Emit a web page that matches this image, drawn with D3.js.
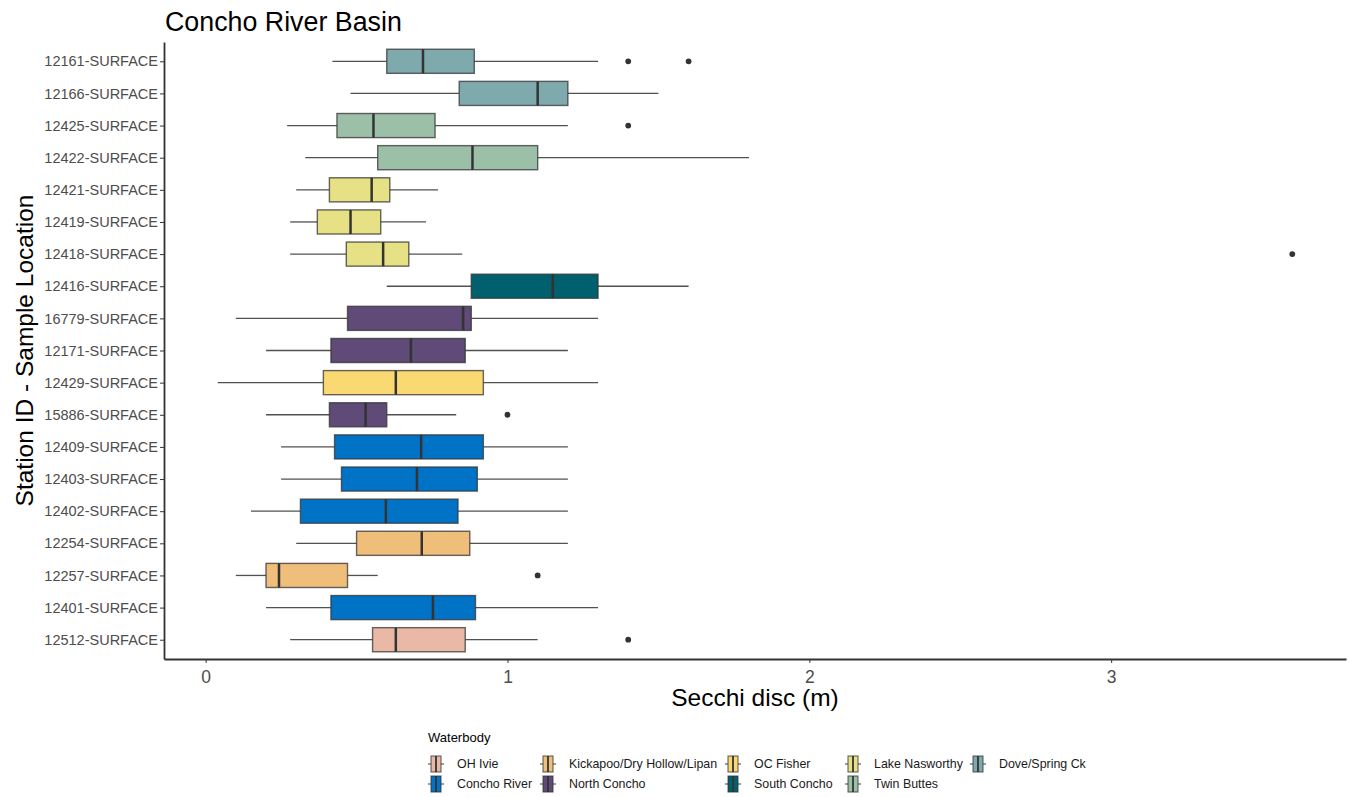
<!DOCTYPE html>
<html>
<head>
<meta charset="utf-8">
<script src="https://cdn.jsdelivr.net/npm/d3@7"></script>
<style>
  html, body { margin: 0; padding: 0; background: #fff; }
  svg { display: block; font-family: "Liberation Sans", Arial, sans-serif; }
</style>
</head>
<body>
<svg id="chart" width="1348" height="797"></svg>
<script>
// ---- data (top to bottom) ----
const stations = ["12161-SURFACE","12166-SURFACE","12425-SURFACE","12422-SURFACE","12421-SURFACE","12419-SURFACE","12418-SURFACE","12416-SURFACE","16779-SURFACE","12171-SURFACE","12429-SURFACE","15886-SURFACE","12409-SURFACE","12403-SURFACE","12402-SURFACE","12254-SURFACE","12257-SURFACE","12401-SURFACE","12512-SURFACE"];
const waterbodyOf = ["Dove/Spring Ck","Dove/Spring Ck","Twin Buttes","Twin Buttes","Lake Nasworthy","Lake Nasworthy","Lake Nasworthy","South Concho","North Concho","North Concho","OC Fisher","North Concho","Concho River","Concho River","Concho River","Kickapoo/Dry Hollow/Lipan","Kickapoo/Dry Hollow/Lipan","Concho River","OH Ivie"];
const whiskerLow  = [0.42, 0.48, 0.27, 0.33, 0.30, 0.28, 0.28, 0.60, 0.10, 0.20, 0.04, 0.20, 0.25, 0.25, 0.15, 0.30, 0.10, 0.20, 0.28];
const q1          = [0.60, 0.84, 0.435,0.57, 0.41, 0.37, 0.466,0.88, 0.47, 0.415,0.39, 0.41, 0.427,0.45, 0.314,0.50, 0.20, 0.415,0.553];
const median      = [0.72, 1.10, 0.556,0.884,0.55, 0.48, 0.588,1.15, 0.853,0.68, 0.63, 0.53, 0.714,0.70, 0.597,0.716,0.243,0.753,0.63];
const q3          = [0.89, 1.20, 0.76, 1.10, 0.61, 0.58, 0.673,1.30, 0.88, 0.86, 0.92, 0.60, 0.92, 0.90, 0.836,0.875,0.47, 0.894,0.86];
const whiskerHigh = [1.30, 1.50, 1.20, 1.80, 0.77, 0.73, 0.85, 1.60, 1.30, 1.20, 1.30, 0.83, 1.20, 1.20, 1.20, 1.20, 0.57, 1.30, 1.10];
const outliers    = [[1.40,1.60],[],[1.40],[],[],[],[3.60],[],[],[],[],[1.00],[],[],[],[],[1.10],[],[1.40]];
const legendOrder = ["OH Ivie","Concho River","Kickapoo/Dry Hollow/Lipan","North Concho","OC Fisher","South Concho","Lake Nasworthy","Twin Buttes","Dove/Spring Ck"];
const legendColors = ["#E9B9A6","#0073C7","#EEBE7A","#5F4A78","#FAD973","#00606E","#E7E185","#9CBFA8","#7EA9AD"];
const xTicks = [0, 1, 2, 3];

const svg = d3.select("#chart");
const pLeft = 164, pRight = 1346, pTop = 42, pBottom = 659;

const x = d3.scaleLinear().domain([-0.138, 3.778]).range([pLeft, pRight]);
const y = d3.scalePoint().domain(stations).range([pTop, pBottom]).padding(0.6);
const color = d3.scaleOrdinal().domain(legendOrder).range(legendColors);
const step = y.step();
const boxH = step * 0.75;

const rows = stations.map((s, i) => ({
  s, wb: waterbodyOf[i], lo: whiskerLow[i], q1: q1[i], med: median[i], q3: q3[i], hi: whiskerHigh[i], out: outliers[i]
}));

const lineCol = "#333333";

const g = svg.append("g");
const row = g.selectAll("g.row").data(rows).join("g").attr("class", "row")
  .attr("transform", d => `translate(0,${y(d.s)})`);

// whiskers
row.append("line").attr("x1", d => x(d.lo)).attr("x2", d => x(d.q1)).attr("y1", 0).attr("y2", 0)
  .attr("stroke", lineCol).attr("stroke-opacity", 0.85).attr("stroke-width", 1.3);
row.append("line").attr("x1", d => x(d.q3)).attr("x2", d => x(d.hi)).attr("y1", 0).attr("y2", 0)
  .attr("stroke", lineCol).attr("stroke-opacity", 0.85).attr("stroke-width", 1.3);
// boxes
row.append("rect").attr("x", d => x(d.q1)).attr("width", d => x(d.q3) - x(d.q1))
  .attr("y", -boxH / 2).attr("height", boxH)
  .attr("fill", d => color(d.wb)).attr("stroke", lineCol).attr("stroke-opacity", 0.75).attr("stroke-width", 1.4);
// medians
row.append("line").attr("x1", d => x(d.med)).attr("x2", d => x(d.med)).attr("y1", -boxH / 2).attr("y2", boxH / 2)
  .attr("stroke", lineCol).attr("stroke-width", 2.5);
// outliers
row.selectAll("circle").data(d => d.out).join("circle")
  .attr("cx", v => x(v)).attr("cy", 0).attr("r", 2.9).attr("fill", lineCol);

// axes
const xAxis = svg.append("g").attr("transform", `translate(0,${pBottom})`)
  .call(d3.axisBottom(x).tickValues(xTicks).tickFormat(d3.format("d")).tickSize(4).tickSizeOuter(0));
xAxis.select(".domain").attr("stroke", "#333").attr("stroke-width", 1.8);
xAxis.selectAll(".tick line").attr("stroke", "#333").attr("stroke-width", 1);
xAxis.selectAll(".tick text").attr("fill", "#4D4D4D").attr("font-size", 17.5).attr("dy", "0.95em")
  .attr("font-family", "Liberation Sans, Arial, sans-serif");

const yAxis = svg.append("g").attr("transform", `translate(${pLeft},0)`)
  .call(d3.axisLeft(y).tickSize(4).tickSizeOuter(0));
yAxis.select(".domain").attr("stroke", "#333").attr("stroke-width", 1.8);
yAxis.selectAll(".tick line").attr("stroke", "#333").attr("stroke-width", 1);
yAxis.selectAll(".tick text").attr("fill", "#4D4D4D").attr("font-size", 14.5).attr("x", -6)
  .attr("font-family", "Liberation Sans, Arial, sans-serif");

// titles
svg.append("text").attr("x", 165).attr("y", 31).attr("font-size", 26.8).attr("fill", "#000")
  .text("Concho River Basin");
svg.append("text").attr("x", (pLeft + pRight) / 2).attr("y", 706).attr("text-anchor", "middle")
  .attr("font-size", 24.5).attr("fill", "#000").text("Secchi disc (m)");
svg.append("text").attr("transform", `translate(33,${(pTop + pBottom) / 2}) rotate(-90)`)
  .attr("text-anchor", "middle").attr("font-size", 24.5).attr("fill", "#000")
  .text("Station ID - Sample Location");

// legend
const lg = svg.append("g");
lg.append("text").attr("x", 428).attr("y", 742).attr("font-size", 13).attr("fill", "#000").text("Waterbody");
const colX = [436, 548, 733, 853, 978];
const rowY = [764, 784];
const items = lg.selectAll("g.item").data(legendOrder).join("g").attr("class", "item")
  .attr("transform", (d, i) => `translate(${colX[Math.floor(i / 2)]},${rowY[i % 2]})`);
items.append("line").attr("x1", -8).attr("x2", 8).attr("y1", 0).attr("y2", 0)
  .attr("stroke", lineCol).attr("stroke-opacity", 0.85).attr("stroke-width", 1.1);
items.append("rect").attr("x", -5).attr("y", -8).attr("width", 10).attr("height", 16)
  .attr("fill", d => color(d)).attr("stroke", lineCol).attr("stroke-opacity", 0.75).attr("stroke-width", 1.1);
items.append("line").attr("x1", 0).attr("x2", 0).attr("y1", -8).attr("y2", 8)
  .attr("stroke", lineCol).attr("stroke-width", 1.8);
items.append("text").attr("x", 21).attr("y", 0).attr("dy", "0.35em").attr("font-size", 12.4)
  .attr("fill", "#1a1a1a").text(d => d);
</script>
</body>
</html>
